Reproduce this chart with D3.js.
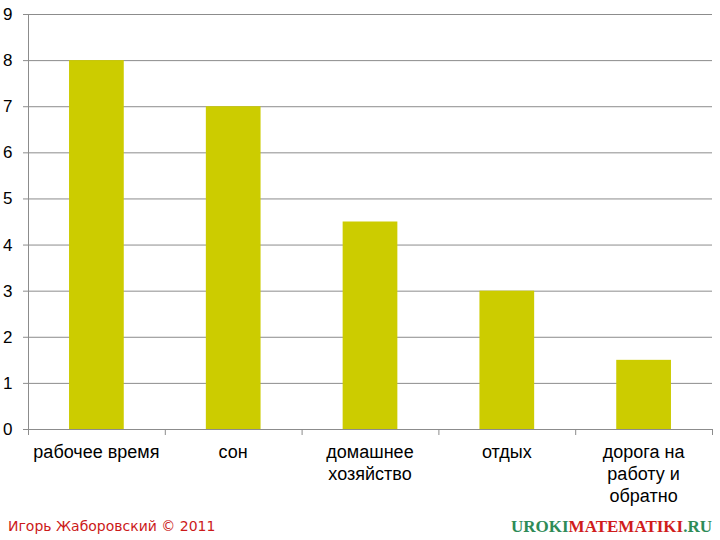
<!DOCTYPE html>
<html>
<head>
<meta charset="utf-8">
<script src="https://cdn.jsdelivr.net/npm/d3@7"></script>
<style>
  body { margin: 0; background: #fff; }
  svg { display: block; }
</style>
</head>
<body>
<div id="chart"></div>
<script>
  // categories and values (hours)
  const categories = [
    ['рабочее время'],
    ['сон'],
    ['домашнее', 'хозяйство'],
    ['отдых'],
    ['дорога на', 'работу и', 'обратно']
  ];
  const hours = [8, 7, 4.5, 3, 1.5];
  const yTicks = [0, 1, 2, 3, 4, 5, 6, 7, 8, 9];

  const width = 720, height = 540;
  const margin = { top: 14, right: 8, bottom: 111, left: 28 };

  const svg = d3.select('#chart')
    .append('svg')
    .attr('width', width)
    .attr('height', height);

  const x = d3.scaleBand()
    .domain(d3.range(categories.length))
    .range([margin.left, width - margin.right])
    .paddingInner(0.6)
    .paddingOuter(0.3);

  // band edges for tick marks
  const step = (width - margin.right - margin.left) / categories.length;

  const y = d3.scaleLinear()
    .domain([0, 9])
    .range([height - margin.bottom, margin.top]);

  // gridlines
  svg.append('g')
    .selectAll('line')
    .data(yTicks)
    .join('line')
    .attr('x1', margin.left - 5)
    .attr('x2', width - margin.right)
    .attr('y1', d => y(d) + 0.5)
    .attr('y2', d => y(d) + 0.5)
    .attr('stroke', '#8c8c8c')
    .attr('stroke-width', 1);

  // y axis line
  svg.append('line')
    .attr('x1', margin.left + 0.5)
    .attr('x2', margin.left + 0.5)
    .attr('y1', y(9))
    .attr('y2', y(0))
    .attr('stroke', '#8c8c8c');

  // y labels
  svg.append('g')
    .selectAll('text')
    .data(yTicks)
    .join('text')
    .attr('x', 3)
    .attr('y', d => y(d) + 6)
    .attr('font-family', 'Liberation Sans, Arial, sans-serif')
    .attr('font-size', 17)
    .attr('fill', '#000')
    .text(d => d);

  // bars
  svg.append('g')
    .selectAll('rect')
    .data(hours)
    .join('rect')
    .attr('x', (d, i) => x(i))
    .attr('width', x.bandwidth())
    .attr('y', d => y(d))
    .attr('height', d => y(0) - y(d))
    .attr('fill', '#cccc00');

  // x axis line and ticks
  svg.append('line')
    .attr('x1', margin.left)
    .attr('x2', width - margin.right)
    .attr('y1', y(0) + 0.5)
    .attr('y2', y(0) + 0.5)
    .attr('stroke', '#8c8c8c');

  svg.append('g')
    .selectAll('line')
    .data(d3.range(categories.length + 1))
    .join('line')
    .attr('x1', i => margin.left + i * step + 0.5)
    .attr('x2', i => margin.left + i * step + 0.5)
    .attr('y1', y(0))
    .attr('y2', y(0) + 6)
    .attr('stroke', '#8c8c8c');

  // category labels
  const labels = svg.append('g')
    .selectAll('text')
    .data(categories)
    .join('text')
    .attr('text-anchor', 'middle')
    .attr('font-family', 'Liberation Sans, Arial, sans-serif')
    .attr('font-size', 18)
    .attr('fill', '#000');

  labels.each(function (lines, i) {
    d3.select(this)
      .selectAll('tspan')
      .data(lines)
      .join('tspan')
      .attr('x', x(i) + x.bandwidth() / 2)
      .attr('y', (d, j) => 458 + j * 22)
      .text(d => d);
  });

  // footer
  svg.append('text')
    .attr('x', 8)
    .attr('y', 531)
    .attr('font-family', 'DejaVu Sans, sans-serif')
    .attr('font-size', 14)
    .attr('fill', '#cc1a1a')
    .text('Игорь Жаборовский © 2011');

  const site = svg.append('text')
    .attr('x', 712)
    .attr('y', 532)
    .attr('text-anchor', 'end')
    .attr('font-family', 'Liberation Serif, Times New Roman, serif')
    .attr('font-weight', 'bold')
    .attr('font-size', 17);
  site.append('tspan').attr('fill', '#2e8b57').text('UROKI');
  site.append('tspan').attr('fill', '#d01c1c').text('MATEMATIKI');
  site.append('tspan').attr('fill', '#2e8b57').text('.RU');
</script>
</body>
</html>
